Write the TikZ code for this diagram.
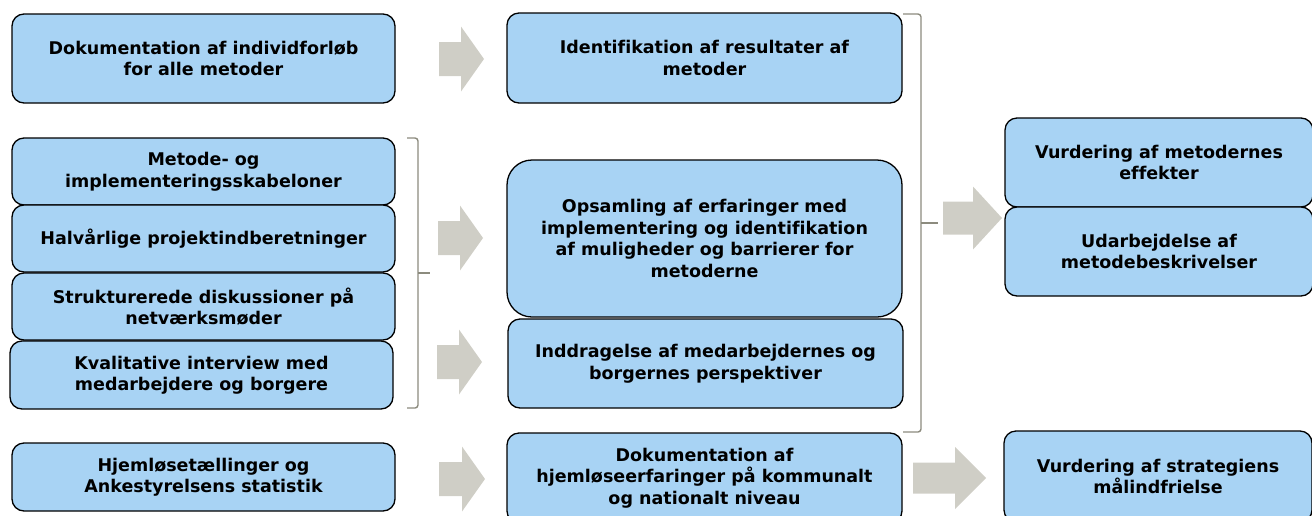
\documentclass[tikz,border=0pt]{standalone}
\usepackage{fontspec}
\setmainfont[Ligatures=NoCommon]{DejaVu Sans}
\definecolor{boxblue}{HTML}{A8D3F4}
\definecolor{arrowgray}{HTML}{CFCEC6}
\definecolor{bracegray}{HTML}{8C8B7E}
\begin{document}
\begin{tikzpicture}
        [x=1pt,y=-1pt,
        every node/.style={draw=black,line width=1.3pt,fill=boxblue,rounded corners=12pt,
          align=center,inner sep=0pt,font=\fontsize{17.5}{21.5}\selectfont\bfseries},
        leftbox/.style={minimum width=383pt},
        midbox/.style={minimum width=395pt},
        rightbox/.style={minimum width=308pt},
        brace/.style={draw=bracegray,line width=1.4pt,rounded corners=3pt},
        pics/garrow/.style n args={4}{code={
          \fill[arrowgray,sharp corners] (-#1,-#3) -- (-#2,-#3) -- (-#2,-#4) -- (0,0)
            -- (-#2,#4) -- (-#2,#3) -- (-#1,#3) -- cycle;}}]
        \useasboundingbox (0,0) rectangle (1312,515);
        %Left side
        \node[leftbox,minimum height=89pt]  (A1) at (203.5,58.5)  {Dokumentation af individforløb\\for alle metoder};
        \node[leftbox,minimum height=67pt]  (A2) at (203.5,171.5) {Metode- og\\implementeringsskabeloner};
        \node[leftbox,minimum height=67pt]  (A3) at (203.5,238.5) {Halvårlige projektindberetninger};
        \node[leftbox,minimum height=67pt]  (A4) at (203.5,306.5) {Strukturerede diskussioner på\\netværksmøder};
        \node[leftbox,minimum height=68pt]  (A5) at (201.5,375)   {Kvalitative interview med\\medarbejdere og borgere};
        \node[leftbox,minimum height=68pt]  (A6) at (203.5,477)   {Hjemløsetællinger og\\Ankestyrelsens statistik};
        %Middle
        \node[midbox,minimum height=90pt]   (B1) at (704.5,58)    {Identifikation af resultater af\\metoder};
        \node[midbox,minimum height=157pt,rounded corners=25pt]
                                            (B2) at (704.5,238.5) {Opsamling af erfaringer med\\implementering og identifikation\\af muligheder og barrierer for\\metoderne};
        \node[midbox,minimum height=89pt]   (B3) at (705.5,363.5) {Inddragelse af medarbejdernes og\\borgernes perspektiver};
        \node[midbox,minimum height=90pt]   (B4) at (704.5,478)   {Dokumentation af\\hjemløseerfaringer på kommunalt\\og nationalt niveau};
        %Right side
        \node[rightbox,minimum height=89pt] (C1) at (1159,162.5)  {Vurdering af metodernes\\effekter};
        \node[rightbox,minimum height=89pt] (C2) at (1159,251.5)  {Udarbejdelse af\\metodebeskrivelser};
        \node[rightbox,minimum height=91pt] (C3) at (1158,476.5)  {Vurdering af strategiens\\målindfrielse};

        %Braces
        \draw[brace] (407,138) -- (418,138) -- (418,408) -- (407,408);
        \draw[brace,sharp corners] (418,273) -- (430,273);
        \draw[brace] (903,14) -- (921,14) -- (921,432) -- (903,432);
        \draw[brace,sharp corners] (921,223) -- (938,223);

        %Arrows
        \pic at (484,59)   {garrow={45}{23}{17}{32.5}};
        \pic at (483,238)  {garrow={45}{23}{17}{32.5}};
        \pic at (482,362)  {garrow={45}{23}{17}{32.5}};
        \pic at (485,479)  {garrow={46}{23}{17}{32.5}};
        \pic at (986,478)  {garrow={73}{31}{15.5}{31}};
        \pic at (1002,218) {garrow={59}{29}{16.5}{31.5}};
\end{tikzpicture}
\end{document}
